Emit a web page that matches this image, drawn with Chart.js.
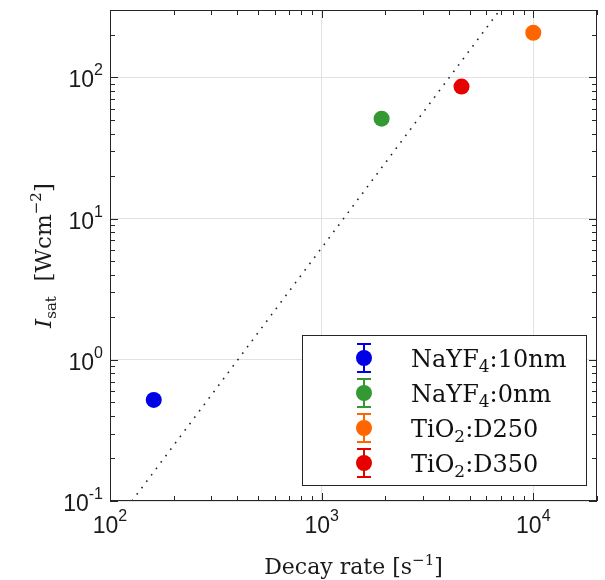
<!DOCTYPE html>
<html>
<head>
<meta charset="utf-8">
<script src="https://cdn.jsdelivr.net/npm/chart.js@4.4.0/dist/chart.umd.min.js"></script>
<style>
body { margin: 0; background: #fff; }
</style>
</head>
<body>
<canvas id="satChart" width="605" height="580"></canvas>
<script>
// values
const sampleNames = ["NaYF_4:10nm", "NaYF_4:0nm", "TiO_2:D250", "TiO_2:D350"];
const sampleColors = ["#0000e6", "#339933", "#ff6600", "#e60000"];
const decayRates = [161, 1920, 10000, 4580];
const satIntensity = [0.52, 51, 207, 86];
const fitRates = [127, 6950];
const fitIntensity = [0.1, 300];
const xTickExps = [2, 3, 4];
const yTickExps = [-1, 0, 1, 2];

const SANS = '"Liberation Sans", Arial, sans-serif';
const SERIF = '"DejaVu Serif", serif';
const INK = "#262626";

const datasets = sampleNames.map((name, i) => ({
    type: "scatter",
    label: name,
    data: [{ x: decayRates[i], y: satIntensity[i] }],
    backgroundColor: sampleColors[i],
    borderWidth: 0,
    pointRadius: 8,
    order: 1
}));
datasets.push({
    type: "line",
    label: "fit",
    data: fitRates.map((x, i) => ({ x: x, y: fitIntensity[i] })),
    borderColor: "#222",
    borderWidth: 1.6,
    borderDash: [1.6, 6.4],
    pointRadius: 0,
    fill: false,
    order: 5
});

// draw a list of text pieces in a row, returns width
function richWidth(ctx, parts) {
    let w = 0;
    parts.forEach(p => { ctx.font = p.font; w += ctx.measureText(p.t).width; });
    return w;
}
function drawRich(ctx, parts, x, y, align) {
    let w = richWidth(ctx, parts);
    let cx = align === "center" ? x - w / 2 : align === "right" ? x - w : x;
    ctx.textAlign = "left";
    ctx.textBaseline = "alphabetic";
    parts.forEach(p => {
        ctx.font = p.font;
        ctx.fillText(p.t, cx, y + (p.dy || 0));
        cx += ctx.measureText(p.t).width;
    });
}
function powParts(exp) {
    return [
        { t: "10", font: "23px " + SANS },
        { t: String(exp), font: "16px " + SANS, dy: -12 }
    ];
}
function nameParts(name, size) {
    const parts = [];
    name.split(/_(\w)/).forEach((s, k) => {
        if (!s) return;
        if (k % 2 === 1) parts.push({ t: s, font: Math.round(size * 0.7) + "px " + SERIF, dy: 5 });
        else parts.push({ t: s, font: size + "px " + SERIF });
    });
    return parts;
}

const framePlugin = {
    id: "frame",
    afterDraw(chart) {
        const ctx = chart.ctx;
        const a = chart.chartArea;
        const xs = chart.scales.x, ys = chart.scales.y;
        ctx.save();
        ctx.strokeStyle = INK;
        ctx.fillStyle = INK;
        ctx.lineWidth = 1;

        // inward ticks on all four sides
        ctx.beginPath();
        for (let e = 2; e <= 4; e++) {
            for (let m = 1; m <= 9; m++) {
                const v = m * Math.pow(10, e);
                if (v < xs.min || v > xs.max) continue;
                const px = Math.round(xs.getPixelForValue(v)) + 0.5;
                const len = m === 1 ? 8 : 5;
                ctx.moveTo(px, a.bottom); ctx.lineTo(px, a.bottom - len);
                ctx.moveTo(px, a.top); ctx.lineTo(px, a.top + len);
            }
        }
        for (let e = -1; e <= 2; e++) {
            for (let m = 1; m <= 9; m++) {
                const v = m * Math.pow(10, e);
                if (v < ys.min * 0.999 || v > ys.max) continue;
                const py = Math.round(ys.getPixelForValue(v)) + 0.5;
                const len = m === 1 ? 8 : 5;
                ctx.moveTo(a.left, py); ctx.lineTo(a.left + len, py);
                ctx.moveTo(a.right, py); ctx.lineTo(a.right - len, py);
            }
        }
        ctx.stroke();
        ctx.strokeRect(Math.round(a.left) + 0.5, Math.round(a.top) + 0.5,
            Math.round(a.right - a.left) - 1, Math.round(a.bottom - a.top) - 1);

        // tick labels
        ctx.fillStyle = "#1a1a1a";
        xTickExps.forEach(e => {
            const px = xs.getPixelForValue(Math.pow(10, e));
            drawRich(ctx, powParts(e), px, a.bottom + 32, "center");
        });
        yTickExps.forEach(e => {
            const py = ys.getPixelForValue(Math.pow(10, e));
            drawRich(ctx, powParts(e), a.left - 7, py + 10, "right");
        });

        // axis titles
        drawRich(ctx, [
            { t: "Decay rate [s", font: "22px " + SERIF },
            { t: "\u22121", font: "15px " + SERIF, dy: -9 },
            { t: "]", font: "22px " + SERIF }
        ], (a.left + a.right) / 2, 574, "center");

        ctx.save();
        ctx.translate(51, (a.top + a.bottom) / 2);
        ctx.rotate(-Math.PI / 2);
        drawRich(ctx, [
            { t: "I", font: "italic 23px " + SERIF },
            { t: "sat", font: "15px " + SERIF, dy: 5 },
            { t: "  [Wcm", font: "23px " + SERIF },
            { t: "\u22122", font: "15px " + SERIF, dy: -10 },
            { t: "]", font: "23px " + SERIF }
        ], 0, 0, "center");
        ctx.restore();

        // legend box inside the axes
        const lx = 302.5, ly = 335.5, lw = 284, lh = 150;
        ctx.fillStyle = "#fff";
        ctx.fillRect(lx, ly, lw, lh);
        ctx.strokeStyle = INK;
        ctx.strokeRect(lx, ly, lw, lh);
        sampleNames.forEach((name, i) => {
            const cy = 358 + i * 35;
            const mx = 364;
            ctx.strokeStyle = sampleColors[i];
            ctx.lineWidth = 2;
            ctx.beginPath();
            ctx.moveTo(mx, cy - 14); ctx.lineTo(mx, cy + 14);
            ctx.moveTo(mx - 7, cy - 14); ctx.lineTo(mx + 7, cy - 14);
            ctx.moveTo(mx - 7, cy + 14); ctx.lineTo(mx + 7, cy + 14);
            ctx.stroke();
            ctx.fillStyle = sampleColors[i];
            ctx.beginPath();
            ctx.arc(mx, cy, 8, 0, Math.PI * 2);
            ctx.fill();
            ctx.fillStyle = "#111";
            drawRich(ctx, nameParts(name, 24), 411, cy + 9, "left");
        });
        ctx.restore();
    }
};

new Chart(document.getElementById("satChart"), {
    data: { datasets: datasets },
    options: {
        responsive: false,
        animation: false,
        layout: { padding: { left: 110, right: 5, top: 10, bottom: 79 } },
        plugins: { legend: { display: false }, tooltip: { enabled: false } },
        scales: {
            x: {
                type: "logarithmic",
                min: 100,
                max: 20000,
                afterBuildTicks: s => { s.ticks = xTickExps.map(e => ({ value: Math.pow(10, e) })); },
                afterFit: s => { s.height = 0; },
                ticks: { display: false },
                grid: { color: "#e2e2e2", drawTicks: false },
                border: { display: false }
            },
            y: {
                type: "logarithmic",
                min: 0.1,
                max: 300,
                afterBuildTicks: s => { s.ticks = yTickExps.map(e => ({ value: Math.pow(10, e) })); },
                afterFit: s => { s.width = 0; },
                ticks: { display: false },
                grid: { color: "#e2e2e2", drawTicks: false },
                border: { display: false }
            }
        }
    },
    plugins: [framePlugin]
});
</script>
</body>
</html>
